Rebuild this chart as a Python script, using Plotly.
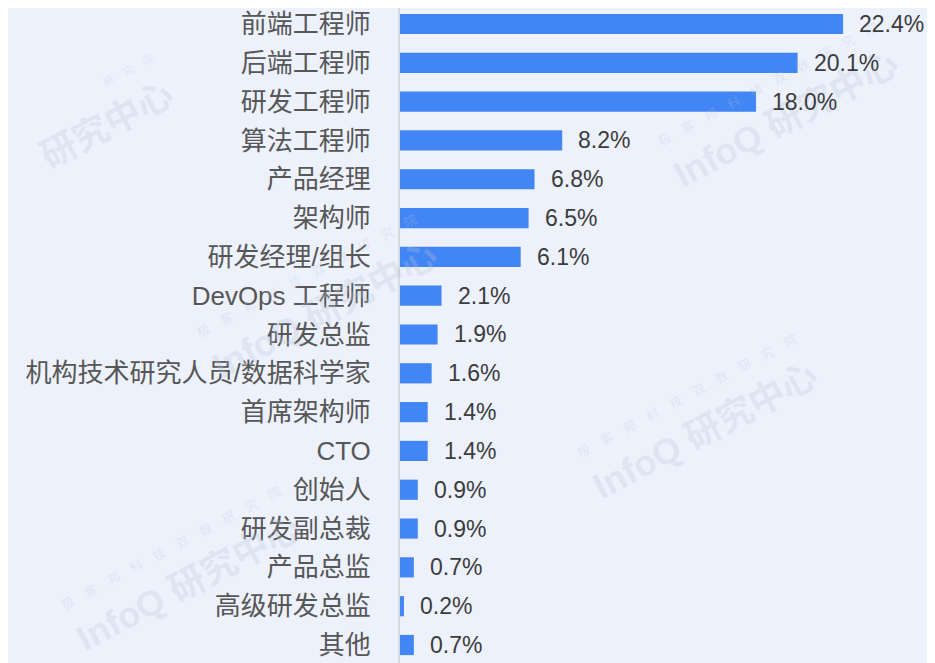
import plotly.graph_objects as go

categories = ["前端工程师", "后端工程师", "研发工程师", "算法工程师", "产品经理", "架构师",
              "研发经理/组长", "DevOps 工程师", "研发总监", "机构技术研究人员/数据科学家",
              "首席架构师", "CTO", "创始人", "研发副总裁", "产品总监", "高级研发总监", "其他"]
values = [22.4, 20.1, 18.0, 8.2, 6.8, 6.5, 6.1, 2.1, 1.9, 1.6, 1.4, 1.4, 0.9, 0.9, 0.7, 0.2, 0.7]
labels = [f"{v:.1f}%" for v in values]

BG = "#ecf1fc"
BAR = "#4285f4"
FONT = "Liberation Sans, Noto Sans CJK SC, sans-serif"
WM = "rgba(190,198,215,0.28)"
WM_SMALL_FULL = "极　客　邦　科　技　双　数　研　究　院"
WM_SMALL_SHORT = "研　究　院"

fig = go.Figure()
fig.add_trace(go.Bar(
    x=values, y=categories, orientation="h",
    marker=dict(color=BAR, line=dict(width=0)),
    width=0.52, hoverinfo="skip",
))

annotations = []
# faint watermarks (paper coords relative to plot area)
wm = [
    (0.70, 0.85, "InfoQ 研究中心", WM_SMALL_FULL, 13),
    (-0.55, 0.84, "研究中心", WM_SMALL_SHORT, 11),
    (-0.15, 0.56, "InfoQ 研究中心", WM_SMALL_FULL, 13),
    (0.55, 0.38, "InfoQ 研究中心", WM_SMALL_FULL, 13),
    (-0.40, 0.15, "InfoQ 研究中心", WM_SMALL_FULL, 13),
]
for x, y, t, small, s in wm:
    annotations.append(dict(
        x=x, y=y, xref="paper", yref="paper",
        text=f"<span style='font-size:{s}px'>{small}</span><br><b>{t}</b>",
        showarrow=False, xanchor="center", yanchor="middle", align="right",
        textangle=-28, font=dict(size=36, color=WM, family=FONT)))

for c, v, t in zip(categories, values, labels):
    annotations.append(dict(x=v, y=c, xref="x", yref="y", text=t, showarrow=False,
                            xanchor="left", yanchor="middle", xshift=14,
                            font=dict(size=23, color="#3c3c3c", family=FONT)))

fig.update_layout(
    width=935, height=663,
    paper_bgcolor=BG, plot_bgcolor=BG,
    margin=dict(l=392, r=0, t=0, b=0),
    showlegend=False,
    annotations=annotations,
    font=dict(family=FONT),
)
fig.update_xaxes(range=[0, 27.45], visible=False, showgrid=False, zeroline=False)
fig.update_yaxes(range=[16.67, -0.412], showgrid=False, zeroline=False, automargin=False,
                 showline=True, linecolor="#d6d9de", linewidth=2,
                 ticks="outside", ticklen=22, tickcolor="rgba(0,0,0,0)",
                 tickfont=dict(size=26, color="#575757", family=FONT))

fig.write_html("out.html")
